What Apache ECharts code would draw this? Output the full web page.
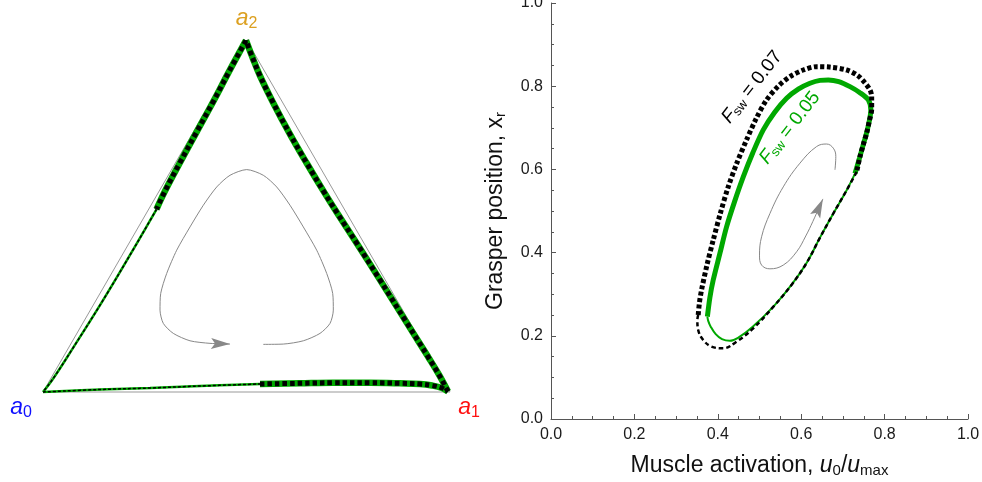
<!DOCTYPE html>
<html>
<head>
<meta charset="utf-8">
<script src="https://cdn.jsdelivr.net/npm/echarts@6/dist/echarts.min.js"></script>
<style>
  html, body { margin: 0; padding: 0; background: #ffffff; }
  #chart { width: 982px; height: 482px; }
</style>
</head>
<body>
<div id="chart"></div>
<script>
// ---------- Simplex panel (unit-side triangle, Cartesian coordinates) ----------
const simplexVertices = [[0, 0], [1, 0], [0.5, 0.866], [0, 0]];
const vertexNames = ['0', '1', '2'];

// Cycle near the simplex boundary, split at the vertices.
// Fast (thick) stretch: bottom edge -> a1 -> a2 -> upper left edge
const cycleBottomFast = [
  [0.5332, 0.0197], [0.6314, 0.0214], [0.7125, 0.0226], [0.8034, 0.0226], [0.8771, 0.0214],
  [0.9263, 0.0197], [0.9558, 0.0160], [0.9803, 0.0098], [0.9951, 0.0012]
];
const cycleRightFast = [
  [0.9951, 0.0012], [0.9725, 0.0432], [0.9462, 0.0865], [0.8943, 0.1695], [0.8283, 0.2752],
  [0.7708, 0.3661], [0.7224, 0.4410], [0.6899, 0.4929], [0.6484, 0.5622], [0.6084, 0.6314],
  [0.5651, 0.7125], [0.5329, 0.7784], [0.5152, 0.8216], [0.4988, 0.8649]
];
const cycleLeftFast = [
  [0.4988, 0.8649], [0.4563, 0.7870], [0.4201, 0.7179], [0.3776, 0.6400], [0.3354, 0.5622],
  [0.2990, 0.4929], [0.2789, 0.4496]
];
// Slow (thin) stretch: lower left edge -> a0 -> bottom edge
const cycleLeftSlow = [
  [0.2789, 0.4496], [0.2541, 0.4064], [0.2241, 0.3545], [0.1469, 0.2248], [0.0708, 0.1037],
  [0.0260, 0.0346], [0.0, 0.0]
];
const cycleBottomSlow = [
  [0.0, 0.0], [0.1400, 0.0061], [0.2629, 0.0098], [0.3857, 0.0147], [0.5332, 0.0197]
];
// Inner trajectory with direction arrow
const simplexInner = [
  [0.5413, 0.1172], [0.5904, 0.1179], [0.6396, 0.1260], [0.6806, 0.1442], [0.7052, 0.1688],
  [0.7133, 0.2015], [0.7118, 0.2425], [0.6971, 0.2916], [0.6725, 0.3489], [0.6396, 0.4061],
  [0.6069, 0.4595], [0.5742, 0.5044], [0.5413, 0.5332], [0.5005, 0.5472], [0.4595, 0.5332],
  [0.4268, 0.5044], [0.3939, 0.4595], [0.3612, 0.4061], [0.3285, 0.3489], [0.3039, 0.2916],
  [0.2892, 0.2425], [0.2875, 0.2015], [0.2956, 0.1688], [0.3202, 0.1442], [0.3612, 0.1260],
  [0.4103, 0.1197], [0.4595, 0.1179]
];

// ---------- Phase plane: muscle activation vs grasper position ----------
const loop07Thick = [
  [0.353, 0.250], [0.356, 0.280], [0.361, 0.310], [0.374, 0.370], [0.389, 0.430], [0.406, 0.494],
  [0.425, 0.558], [0.446, 0.616], [0.469, 0.671], [0.492, 0.722], [0.517, 0.767], [0.545, 0.800],
  [0.573, 0.823], [0.605, 0.839], [0.637, 0.847], [0.668, 0.846], [0.709, 0.839], [0.735, 0.826],
  [0.752, 0.809], [0.765, 0.791], [0.769, 0.775], [0.769, 0.745], [0.763, 0.715], [0.757, 0.687],
  [0.749, 0.660], [0.741, 0.631], [0.733, 0.594]
];
const loop07Thin = [
  [0.733, 0.594], [0.709, 0.550], [0.677, 0.494], [0.645, 0.436], [0.614, 0.377], [0.578, 0.324],
  [0.535, 0.272], [0.485, 0.218], [0.445, 0.186], [0.413, 0.170], [0.385, 0.174], [0.365, 0.190],
  [0.353, 0.214], [0.351, 0.238], [0.353, 0.250]
];
const loop05Thick = [
  [0.375, 0.246], [0.381, 0.292], [0.389, 0.334], [0.405, 0.398], [0.421, 0.462], [0.440, 0.522],
  [0.461, 0.582], [0.484, 0.640], [0.509, 0.695], [0.536, 0.737], [0.565, 0.771], [0.593, 0.793],
  [0.621, 0.807], [0.645, 0.814], [0.665, 0.815], [0.690, 0.811], [0.717, 0.799], [0.740, 0.785],
  [0.761, 0.767], [0.767, 0.743], [0.762, 0.710], [0.756, 0.685], [0.749, 0.660], [0.740, 0.628],
  [0.729, 0.590]
];
const loop05Thin = [
  [0.729, 0.590], [0.709, 0.550], [0.677, 0.494], [0.645, 0.436], [0.614, 0.377], [0.578, 0.324],
  [0.535, 0.272], [0.483, 0.221], [0.450, 0.196], [0.429, 0.188], [0.410, 0.192],
  [0.395, 0.204], [0.383, 0.222], [0.377, 0.236], [0.375, 0.246]
];
const phaseInner = [
  [0.681, 0.599], [0.683, 0.631], [0.677, 0.651], [0.661, 0.661], [0.637, 0.655], [0.597, 0.615],
  [0.557, 0.558], [0.525, 0.494], [0.505, 0.438], [0.500, 0.394], [0.505, 0.370], [0.525, 0.361],
  [0.557, 0.370], [0.589, 0.402], [0.611, 0.440], [0.628, 0.475], [0.652, 0.529]
];
const axisTicks = [0, 0.2, 0.4, 0.6, 0.8, 1.0];
const swValues = ['0.07', '0.05'];

// ---------- styling ----------
const FONT = "'Liberation Sans', Arial, sans-serif";
const GREEN = '#00a800';
const GRAY = '#888888';
const AXIS = '#555555';

function line(grid, data, color, width, dash, z, smooth) {
  return {
    type: 'line', xAxisIndex: grid, yAxisIndex: grid, data: data,
    showSymbol: false, symbol: 'none', clip: false, silent: true, z: z || 2,
    smooth: smooth || false, animation: false,
    lineStyle: { color: color, width: width, type: dash || 'solid', cap: 'butt', join: 'bevel', opacity: 1 }
  };
}
// Green band with black dashes on top (both F_sw cycles coincide in the simplex)
function dualCurve(data, thick) {
  return thick
    ? [line(0, data, GREEN, 6.5, 'solid', 3, 0.4), line(0, data, '#000000', 5, [4.5, 3], 4, 0.4)]
    : [line(0, data, GREEN, 2.5, 'solid', 3, 0.4), line(0, data, '#000000', 1.5, [3, 2], 4, 0.4)];
}
// Arrowhead drawn at the last point of a curve, oriented along its final segment
function arrowHead(grid, curve) {
  const a = curve[curve.length - 2], b = curve[curve.length - 1];
  return {
    type: 'custom', xAxisIndex: grid, yAxisIndex: grid, silent: true, z: 5, clip: false,
    data: [[a[0], a[1], b[0], b[1]]],
    renderItem: function (params, api) {
      const p0 = api.coord([api.value(0), api.value(1)]);
      const tip = api.coord([api.value(2), api.value(3)]);
      let dx = tip[0] - p0[0], dy = tip[1] - p0[1];
      const len = Math.hypot(dx, dy); dx /= len; dy /= len;
      const L = 19, W = 5.5, N = 4;
      const bx = tip[0] - dx * L, by = tip[1] - dy * L;
      const nx = -dy, ny = dx;
      return {
        type: 'polygon',
        shape: { points: [tip, [bx + nx * W, by + ny * W], [tip[0] - dx * (L - N), tip[1] - dy * (L - N)], [bx - nx * W, by - ny * W]] },
        style: { fill: GRAY }
      };
    }
  };
}

const subRich = {
  i: { fontFamily: FONT, fontStyle: 'italic', fontSize: 23, color: '#111' },
  n: { fontFamily: FONT, fontSize: 23, color: '#111' },
  s: { fontFamily: FONT, fontSize: 15, color: '#111', verticalAlign: 'bottom', padding: [9, 0, 0, 0] }
};

function swLabel(value, color) {
  return {
    show: true, position: 'inside', rotate: 52, opacity: 1,
    formatter: '{f|F}{s|sw}{t| = ' + value + '}',
    rich: {
      f: { fontFamily: FONT, fontStyle: 'italic', fontSize: 19, color: color },
      s: { fontFamily: FONT, fontSize: 13, color: color, verticalAlign: 'bottom', padding: [8, 0, 0, 0] },
      t: { fontFamily: FONT, fontSize: 19, color: color }
    }
  };
}
function vertexLabel(name, color, offset) {
  return {
    show: true, position: 'inside', offset: offset, opacity: 1,
    formatter: '{a|a}{s|' + name + '}',
    rich: {
      a: { fontFamily: FONT, fontStyle: 'italic', fontSize: 23, color: color },
      s: { fontFamily: FONT, fontSize: 16, color: color, verticalAlign: 'bottom', padding: [9, 0, 0, 0] }
    }
  };
}
function labelLayer(grid, items) {
  return {
    type: 'scatter', xAxisIndex: grid, yAxisIndex: grid, symbolSize: 1, silent: true, z: 6,
    itemStyle: { color: 'rgba(0,0,0,0)', opacity: 1 },
    emphasis: { disabled: true },
    data: items
  };
}

const chart = echarts.init(document.getElementById('chart'), null, { renderer: 'canvas' });
const valueAxisCommon = {
  type: 'value', min: 0, max: 1, interval: 0.2,
  axisLine: { show: true, onZero: false, lineStyle: { color: AXIS, width: 1 } },
  axisTick: { show: true, inside: true, length: 5, lineStyle: { color: AXIS, width: 1 } },
  minorTick: { show: true, splitNumber: 4, length: 3, lineStyle: { color: AXIS, width: 1 } },
  splitLine: { show: false }, minorSplitLine: { show: false },
  axisLabel: {
    fontFamily: FONT, fontSize: 16, color: '#1a1a1a', margin: 8,
    showMinLabel: true, showMaxLabel: true, hideOverlap: false,
    formatter: function (v) { return axisTicks.indexOf(v) >= 0 ? v.toFixed(1) : ''; }
  },
  nameLocation: 'middle'
};

chart.setOption({
  animation: false,
  backgroundColor: '#ffffff',
  grid: [
    { left: 43, top: 40, width: 407, height: 352, outerBoundsMode: 'none', containLabel: false },
    { left: 551, top: 3, width: 417, height: 416, outerBoundsMode: 'none', containLabel: false }
  ],
  xAxis: [
    { gridIndex: 0, type: 'value', min: 0, max: 1, show: false },
    Object.assign({}, valueAxisCommon, {
      gridIndex: 1,
      name: '{n|Muscle activation, }{i|u}{s|0}{n|/}{i|u}{s|max}',
      nameGap: 35,
      nameTextStyle: { rich: subRich }
    })
  ],
  yAxis: [
    { gridIndex: 0, type: 'value', min: 0, max: 0.866, show: false },
    Object.assign({}, valueAxisCommon, {
      gridIndex: 1,
      name: '{n|Grasper position, x}{s|r}',
      nameGap: 43, nameRotate: 90,
      nameTextStyle: { rich: subRich }
    })
  ],
  series: [
    // simplex panel
    line(0, simplexVertices, '#999999', 1, 'solid', 1),
    line(0, simplexInner, GRAY, 1, 'solid', 2, 0.25),
    arrowHead(0, simplexInner),
    ...dualCurve(cycleLeftSlow, false),
    ...dualCurve(cycleBottomSlow, false),
    ...dualCurve(cycleBottomFast, true),
    ...dualCurve(cycleRightFast, true),
    ...dualCurve(cycleLeftFast, true),
    labelLayer(0, [
      { value: simplexVertices[0], label: vertexLabel(vertexNames[0], '#1010ff', [-22, 16]) },
      { value: simplexVertices[1], label: vertexLabel(vertexNames[1], '#ff1010', [19, 16]) },
      { value: simplexVertices[2], label: vertexLabel(vertexNames[2], '#dca020', [0, -21]) }
    ]),
    // phase plane
    line(1, phaseInner, GRAY, 1, 'solid', 2, 0.4),
    arrowHead(1, phaseInner),
    line(1, loop05Thin, GREEN, 2, 'solid', 3, 0.4),
    line(1, loop05Thick, GREEN, 5, 'solid', 3, 0.3),
    line(1, loop07Thin, '#000000', 2.5, [4.5, 3], 4, 0.4),
    line(1, loop07Thick, '#000000', 5, [4, 2.5], 4, 0.3),
    labelLayer(1, [
      { value: [0.482, 0.798], label: swLabel(swValues[0], '#000000') },
      { value: [0.573, 0.700], label: swLabel(swValues[1], GREEN) }
    ])
  ]
});
</script>
</body>
</html>
